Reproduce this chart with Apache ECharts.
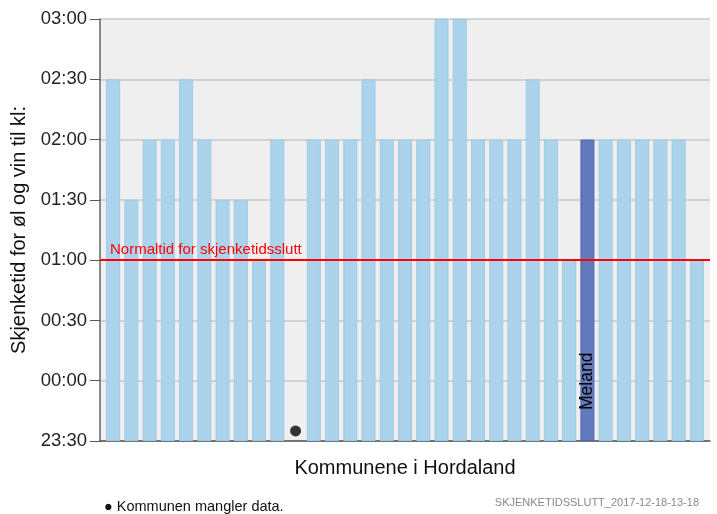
<!DOCTYPE html>
<html>
<head>
<meta charset="utf-8">
<script src="https://cdn.jsdelivr.net/npm/echarts@6/dist/echarts.min.js"></script>
<style>
  html, body { margin: 0; padding: 0; background: #fff; }
  #main { width: 717px; height: 514px; }
</style>
</head>
<body>
<div id="main"></div>
<script>
// kommunene i Hordaland (kommunenummer-rekkefolge)
var kommuner = ['Bergen','Etne','Sveio','Bømlo','Stord','Fitjar','Tysnes','Kvinnherad','Jondal','Odda',
  'Ullensvang','Eidfjord','Ulvik','Granvin','Voss','Kvam','Fusa','Samnanger','Os','Austevoll',
  'Sund','Fjell','Askøy','Vaksdal','Modalen','Osterøy','Meland','Øygarden','Radøy','Lindås',
  'Austrheim','Fedje','Masfjorden'];
// skjenketid slutt, null = mangler data
var skjenketid = ['02:30','01:30','02:00','02:00','02:30','02:00','01:30','01:30','01:00','02:00',
  null,'02:00','02:00','02:00','02:30','02:00','02:00','02:00','03:00','03:00',
  '02:00','02:00','02:00','02:30','02:00','01:00','02:00','02:00','02:00','02:00',
  '02:00','02:00','01:00'];
var yTicks = ['23:30','00:00','00:30','01:00','01:30','02:00','02:30','03:00'];
var normaltid = '01:00';
var valgt = 'Meland';
var manglerY = '23:35';

// minutter etter 23:30
function tilMin(s) {
  var p = s.split(':');
  var m = parseInt(p[0], 10) * 60 + parseInt(p[1], 10);
  var base = 23 * 60 + 30;
  return (m - base + 1440) % 1440;
}
var yMin = tilMin(yTicks[0]);
var yMax = tilMin(yTicks[yTicks.length - 1]);

var barData = [];
var dotData = [];
for (var i = 0; i < kommuner.length; i++) {
  if (skjenketid[i] === null) {
    barData.push(null);
    dotData.push([kommuner[i], tilMin(manglerY)]);
    continue;
  }
  var d = { value: tilMin(skjenketid[i]) };
  if (kommuner[i] === valgt) {
    d.itemStyle = { color: '#6279bb', borderColor: '#4f67ae' };
    d.label = {
      show: true, formatter: valgt, position: 'insideBottom', rotate: 90,
      align: 'left', verticalAlign: 'middle', distance: 31,
      fontSize: 17.5, color: '#000', fontFamily: 'Liberation Sans, Arial, sans-serif'
    };
  }
  barData.push(d);
}

var font = 'Liberation Sans, Arial, sans-serif';
var chart = echarts.init(document.getElementById('main'));
chart.setOption({
  animation: false,
  textStyle: { fontFamily: font },
  grid: [
    { left: 100, right: 7, top: 19, bottom: 73, show: true, backgroundColor: '#efefef', borderWidth: 0 },
    { left: 104, right: 11, top: 19, bottom: 73 }
  ],
  xAxis: [
    {
      gridIndex: 0, type: 'category', data: kommuner,
      axisLine: { lineStyle: { color: '#555', width: 1.5 } },
      axisTick: { show: false }, axisLabel: { show: false },
      name: 'Kommunene i Hordaland', nameLocation: 'middle', nameGap: 17,
      nameTextStyle: { fontSize: 20, color: '#111' }
    },
    {
      gridIndex: 1, type: 'category', data: kommuner,
      axisLine: { show: false }, axisTick: { show: false }, axisLabel: { show: false }
    }
  ],
  yAxis: [
    {
      gridIndex: 0, type: 'value', min: yMin, max: yMax, interval: 30,
      axisLine: { show: true, lineStyle: { color: '#666', width: 1.5 } },
      axisTick: { show: true, length: 10, lineStyle: { color: '#555' } },
      axisLabel: {
        fontSize: 18.5, color: '#222', margin: 13,
        formatter: function (v) { return yTicks[Math.round((v - yMin) / 30)]; }
      },
      splitLine: { show: true, lineStyle: { color: '#c9c9c9', width: 1.5 } },
      name: 'Skjenketid for øl og vin til kl:', nameLocation: 'middle', nameGap: 65,
      nameTextStyle: { fontSize: 20, color: '#111' }
    },
    {
      gridIndex: 1, type: 'value', min: yMin, max: yMax, interval: 30,
      axisLine: { show: false }, axisTick: { show: false }, axisLabel: { show: false },
      splitLine: { show: false }
    }
  ],
  series: [
    {
      type: 'bar', xAxisIndex: 1, yAxisIndex: 1, data: barData, barWidth: 14,
      itemStyle: { color: '#acd3ec', borderColor: '#9fcae7', borderWidth: 1 }
    },
    {
      type: 'scatter', xAxisIndex: 1, yAxisIndex: 1, data: dotData,
      symbolSize: 11, itemStyle: { color: '#333', opacity: 1 }
    },
    {
      type: 'line', xAxisIndex: 0, yAxisIndex: 0, data: [],
      markLine: {
        silent: true, symbol: 'none',
        lineStyle: { color: '#ff0000', width: 2, type: 'solid' },
        label: {
          show: true, position: 'insideStartTop', formatter: 'Normaltid for skjenketidsslutt',
          color: '#ff0000', fontSize: 15, distance: [10, 3]
        },
        data: [{ yAxis: tilMin(normaltid) }]
      }
    }
  ],
  graphic: [
    {
      type: 'text', left: 104, top: 499,
      style: { text: '● Kommunen mangler data.', fill: '#111', font: '14.5px ' + font }
    },
    {
      type: 'text', right: 18, top: 497,
      style: { text: 'SKJENKETIDSSLUTT_2017-12-18-13-18', fill: '#888', font: '11px ' + font }
    }
  ]
});
</script>
</body>
</html>
